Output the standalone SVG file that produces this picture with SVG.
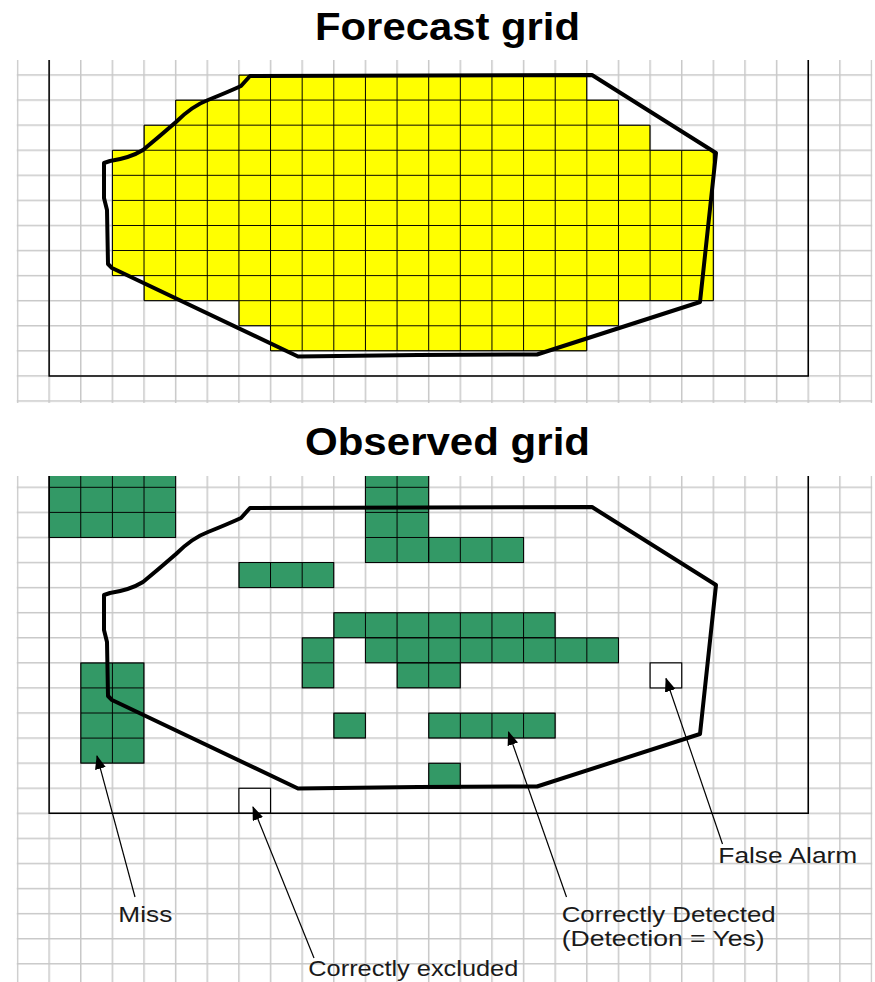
<svg xmlns="http://www.w3.org/2000/svg" xmlns:xlink="http://www.w3.org/1999/xlink" width="875" height="982" viewBox="0 0 875 982">
  <style>
    .title { font-family: "Liberation Sans", Arial, sans-serif; font-weight: bold; font-size: 38px; fill: #000; }
    .label { font-family: "Liberation Sans", Arial, sans-serif; font-size: 22px; fill: #1a1a1a; }
    .frame { fill: none; stroke: #000; stroke-width: 1.5; }
    .outline { fill: none; stroke: #000; stroke-width: 4; stroke-linejoin: round; stroke-linecap: round; }
    .yellow { fill: url(#yellowCells); stroke: #000; stroke-width: 1; }
    .green { fill: url(#greenCells); stroke: #000; stroke-width: 1; }
    .box { fill: #fff; stroke: #000; stroke-width: 1.2; }
    .callout { fill: none; stroke: #000; stroke-width: 1.2; marker-end: url(#arrowhead); }
  </style>
  <defs>
    <!-- light grey cell grid, 31.63 x 25.08 cells -->
    <pattern id="gridTop" patternUnits="userSpaceOnUse" x="16.75" y="74.25" width="31.63" height="25.08">
      <path d="M0,0.75H31.63M0.75,0V25.08" stroke="#c8c8c8" stroke-width="1.5" fill="none"/>
    </pattern>
    <pattern id="gridBottom" patternUnits="userSpaceOnUse" x="16.75" y="486.55" width="31.63" height="25.08">
      <path d="M0,0.75H31.63M0.75,0V25.08" stroke="#c8c8c8" stroke-width="1.5" fill="none"/>
    </pattern>
    <!-- filled cells with black cell borders -->
    <pattern id="yellowCells" patternUnits="userSpaceOnUse" x="17" y="74.5" width="31.63" height="25.08">
      <rect width="31.63" height="25.08" fill="#ffff00"/>
      <path d="M0,0.5H31.63M0.5,0V25.08" stroke="#000" stroke-width="1" fill="none"/>
    </pattern>
    <pattern id="greenCells" patternUnits="userSpaceOnUse" x="17" y="486.8" width="31.63" height="25.08">
      <rect width="31.63" height="25.08" fill="#339966"/>
      <path d="M0,0.5H31.63M0.5,0V25.08" stroke="#000" stroke-width="1" fill="none"/>
    </pattern>
    <clipPath id="clipTop"><rect x="0" y="60" width="875" height="343"/></clipPath>
    <clipPath id="clipBottom"><rect x="0" y="476" width="875" height="506"/></clipPath>
    <!-- forecast area outline, reused for both grids -->
    <path id="areaOutline" d="M250,76 L592,75 L716,153 L700,302 L537,354.5 L418,355 L298,356.5 L112,268 L108,264 L107,210 L104,198 L104,163 L110,161 Q130,158 143,150 Q160,136 176,122 Q192,106 208,100 Q228,92 241,86 Z"/>
    <marker id="arrowhead" markerUnits="userSpaceOnUse" markerWidth="14" markerHeight="11" refX="13" refY="5.5" orient="auto">
      <path d="M0,0 L14,5.5 L0,11 Z" fill="#000"/>
    </marker>
  </defs>

  <rect width="875" height="982" fill="#fff"/>

  <!-- Forecast grid -->
  <g id="forecast">
    <text class="title" x="315" y="39.5" textLength="265" lengthAdjust="spacingAndGlyphs">Forecast grid</text>
    <g clip-path="url(#clipTop)">
      <rect x="16.75" y="60" width="855.51" height="343" fill="url(#gridTop)"/>
      <path id="forecast-cells" class="yellow" d="M238.91,75 H586.84 V100.08 H618.47 V125.16 H650.1 V150.24 H713.36 V300.72 H618.47 V325.8 H586.84 V350.88 H270.54 V325.8 H238.91 V300.72 H144.02 V275.64 H112.39 V150.24 H144.02 V125.16 H175.65 V100.08 H238.91 Z"/>
      <path class="frame" d="M49.13,55 V375.96 H808.25 V55"/>
    </g>
    <use id="forecast-area" xlink:href="#areaOutline" href="#areaOutline" class="outline"/>
  </g>

  <!-- Observed grid -->
  <g id="observed">
    <text class="title" x="305" y="455" textLength="285" lengthAdjust="spacingAndGlyphs">Observed grid</text>
    <g clip-path="url(#clipBottom)">
      <rect x="16.75" y="476" width="855.51" height="506" fill="url(#gridBottom)"/>
      <g id="observed-cells">
        <rect class="green" x="49.13" y="475" width="126.52" height="62.46"/>
        <rect class="green" x="365.43" y="475" width="63.26" height="87.54"/>
        <rect class="green" x="428.69" y="537.46" width="94.89" height="25.08"/>
        <rect class="green" x="238.91" y="562.54" width="94.89" height="25.08"/>
        <rect class="green" x="333.8" y="612.7" width="221.41" height="25.08"/>
        <rect class="green" x="302.17" y="637.78" width="31.63" height="50.16"/>
        <rect class="green" x="365.43" y="637.78" width="253.04" height="25.08"/>
        <rect class="green" x="397.06" y="662.86" width="63.26" height="25.08"/>
        <rect class="green" x="80.76" y="662.86" width="63.26" height="100.32"/>
        <rect class="green" x="333.8" y="713.02" width="31.63" height="25.08"/>
        <rect class="green" x="428.69" y="713.02" width="126.52" height="25.08"/>
        <rect class="green" x="428.69" y="763.18" width="31.63" height="25.08"/>
      </g>
      <rect id="false-alarm-cell" class="box" x="650.1" y="662.86" width="31.63" height="25.08"/>
      <rect id="excluded-cell" class="box" x="238.91" y="788.26" width="31.63" height="25.08"/>
      <path class="frame" d="M49.13,470 V813.34 H808.25 V470"/>
    </g>
    <use id="observed-area" xlink:href="#areaOutline" href="#areaOutline" class="outline" y="432"/>
  </g>

  <!-- Callout arrows -->
  <g id="connectors">
    <line class="callout" x1="135" y1="897" x2="97" y2="756"/>
    <line class="callout" x1="314" y1="958" x2="253" y2="807"/>
    <line class="callout" x1="566.5" y1="897" x2="508.5" y2="732"/>
    <line class="callout" x1="722.5" y1="844" x2="666" y2="678.5"/>
  </g>

  <!-- Callout labels -->
  <g id="label-miss">
    <text class="label" x="118.3" y="921.7" textLength="54" lengthAdjust="spacingAndGlyphs">Miss</text>
  </g>
  <g id="label-false-alarm">
    <text class="label" x="718.3" y="862.7" textLength="139" lengthAdjust="spacingAndGlyphs">False Alarm</text>
  </g>
  <g id="label-detected">
    <text class="label" x="561.7" y="921.7" textLength="214" lengthAdjust="spacingAndGlyphs">Correctly Detected</text>
    <text class="label" x="561.7" y="945.5" textLength="203" lengthAdjust="spacingAndGlyphs">(Detection = Yes)</text>
  </g>
  <g id="label-excluded">
    <text class="label" x="308.3" y="976" textLength="210" lengthAdjust="spacingAndGlyphs">Correctly excluded</text>
  </g>
</svg>
